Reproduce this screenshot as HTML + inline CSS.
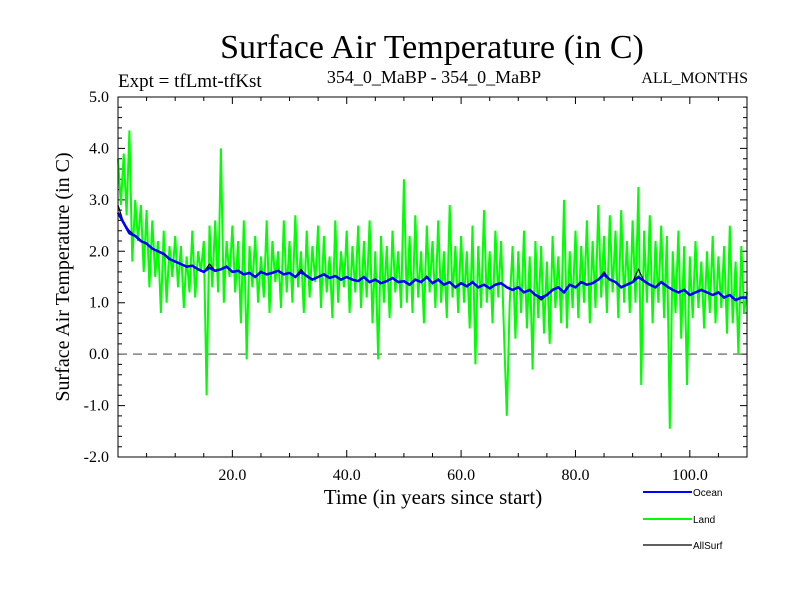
<!DOCTYPE html>
<html><head><meta charset="utf-8"><style>
body{margin:0;background:#fff}
svg text{font-family:"Liberation Serif",serif;fill:#000}
</style></head><body>
<svg width="800" height="600" xmlns="http://www.w3.org/2000/svg">
<text x="432" y="58" font-size="34" text-anchor="middle">Surface Air Temperature (in C)</text>
<text x="118" y="87" font-size="19">Expt = tfLmt-tfKst</text>
<text x="434" y="83" font-size="18" text-anchor="middle">354_0_MaBP - 354_0_MaBP</text>
<text x="748" y="83" font-size="16" text-anchor="end">ALL_MONTHS</text>
<g id="axes"></g>
<g id="series"></g>
<rect x="118" y="97" width="629" height="360" fill="none" stroke="#000" stroke-width="1"/>
<text x="433" y="504" font-size="21" text-anchor="middle">Time (in years since start)</text>
<text transform="translate(69,277) rotate(-90)" font-size="20" text-anchor="middle">Surface Air Temperature (in C)</text>
<g>
<line x1="643" y1="492" x2="692" y2="492" stroke="#0000ff" stroke-width="2"/>
<text x="693" y="496" font-size="10" style="font-family:'Liberation Sans',sans-serif">Ocean</text>
<line x1="643" y1="519" x2="692" y2="519" stroke="#00ff00" stroke-width="2"/>
<text x="693" y="523" font-size="10" style="font-family:'Liberation Sans',sans-serif">Land</text>
<line x1="643" y1="545" x2="692" y2="545" stroke="#000" stroke-width="1.2"/>
<text x="693" y="549" font-size="10" style="font-family:'Liberation Sans',sans-serif">AllSurf</text>
</g>
</svg>
<script>
const xTicks=[20,40,60,80,100];
const xTickLabels=["20.0","40.0","60.0","80.0","100.0"];
const yTicks=[-2,-1,0,1,2,3,4,5];
const yTickLabels=["-2.0","-1.0","0.0","1.0","2.0","3.0","4.0","5.0"];
const landStep=0.5;
const land=[3.8,2.9,3.9,2.7,4.35,1.8,3.0,2.2,2.9,1.6,2.8,1.3,2.6,1.5,2.2,0.8,2.4,1.0,2.1,1.5,
2.3,1.3,2.1,0.9,1.9,1.2,2.4,1.1,2.0,1.6,2.2,-0.8,2.5,1.3,2.6,1.2,4.0,1.0,2.2,1.5,
2.5,1.2,2.2,0.6,2.6,-0.1,2.1,1.3,2.3,1.0,1.9,1.1,2.6,0.8,2.2,1.4,2.0,0.9,2.6,1.2,
2.2,1.0,2.7,1.3,2.0,0.8,2.4,1.1,2.1,1.4,2.5,0.9,2.3,1.2,1.9,0.7,2.6,1.0,2.0,1.3,
2.4,0.8,2.1,1.2,2.5,0.9,2.2,1.1,2.6,0.6,2.0,-0.1,2.3,1.0,2.1,0.7,2.4,1.2,2.0,0.9,
3.4,1.0,2.3,0.8,2.7,1.1,2.0,0.6,2.5,1.2,2.2,0.9,2.6,1.0,2.0,0.7,2.9,1.1,2.1,0.8,
2.3,1.0,2.0,0.5,2.5,-0.2,2.1,0.9,2.8,1.0,2.0,0.6,2.4,1.1,2.2,0.4,-1.2,1.0,2.1,0.3,
2.0,0.8,2.4,0.5,1.9,-0.3,2.2,0.7,2.1,0.4,1.8,0.2,2.3,0.9,1.9,0.6,3.0,0.5,2.0,0.9,
2.4,0.7,2.1,1.0,2.6,0.6,2.2,0.9,2.9,1.1,2.3,0.8,2.7,1.2,2.4,0.7,2.8,1.0,2.2,0.8,
2.6,1.0,3.25,-0.6,2.4,1.0,2.7,0.6,2.2,1.0,2.5,0.7,2.3,-1.45,2.0,0.8,2.4,0.3,2.1,-0.6,
1.9,0.7,2.2,0.9,1.8,0.5,2.0,0.8,2.3,0.6,1.9,0.9,2.1,0.4,2.5,0.6,1.8,0.0,2.1,0.8,1.2];
const ocean=[2.75,2.55,2.35,2.3,2.2,2.15,2.05,2.0,1.95,1.85,
1.8,1.75,1.7,1.72,1.65,1.6,1.68,1.62,1.65,1.7,
1.6,1.62,1.55,1.58,1.5,1.6,1.55,1.58,1.62,1.55,
1.58,1.5,1.6,1.52,1.45,1.5,1.55,1.48,1.52,1.45,
1.5,1.45,1.42,1.5,1.4,1.45,1.38,1.42,1.48,1.4,
1.42,1.35,1.45,1.4,1.5,1.38,1.45,1.35,1.4,1.3,
1.38,1.32,1.4,1.3,1.35,1.28,1.35,1.38,1.3,1.25,
1.3,1.2,1.25,1.15,1.1,1.15,1.25,1.3,1.2,1.35,
1.3,1.4,1.35,1.38,1.45,1.55,1.45,1.4,1.3,1.35,
1.4,1.5,1.42,1.35,1.3,1.4,1.32,1.25,1.2,1.25,
1.15,1.2,1.25,1.2,1.15,1.2,1.1,1.15,1.05,1.1,1.1];
const allSurf=[2.9,2.55,2.4,2.3,2.2,2.15,2.05,2.0,1.95,1.85,
1.8,1.75,1.7,1.72,1.65,1.6,1.75,1.62,1.65,1.7,
1.6,1.62,1.55,1.58,1.5,1.6,1.55,1.58,1.62,1.55,
1.58,1.5,1.65,1.52,1.45,1.5,1.55,1.48,1.52,1.45,
1.5,1.45,1.42,1.5,1.4,1.45,1.38,1.42,1.48,1.4,
1.42,1.35,1.45,1.4,1.5,1.38,1.45,1.35,1.4,1.3,
1.38,1.32,1.4,1.3,1.35,1.28,1.35,1.38,1.3,1.25,
1.3,1.2,1.25,1.15,1.05,1.15,1.25,1.3,1.2,1.35,
1.3,1.4,1.35,1.38,1.45,1.6,1.45,1.4,1.3,1.35,
1.4,1.65,1.42,1.35,1.3,1.4,1.32,1.25,1.2,1.25,
1.15,1.2,1.25,1.2,1.15,1.2,1.1,1.15,1.05,1.1,1.1];
const X0=118,X1=747,Y0=457,Y1=97,xmin=0,xmax=110,ymin=-2,ymax=5;
const sx=v=>X0+(v-xmin)/(xmax-xmin)*(X1-X0);
const sy=v=>Y0-(v-ymin)/(ymax-ymin)*(Y0-Y1);
const NS="http://www.w3.org/2000/svg";
const axes=document.getElementById('axes'),ser=document.getElementById('series');
function mk(tag,attrs,parent){const e=document.createElementNS(NS,tag);for(const k in attrs)e.setAttribute(k,attrs[k]);parent.appendChild(e);return e;}
for(let v=5;v<xmax;v+=5){const major=v%20===0,L=major?7:4;
 const t=mk('path',{d:`M${sx(v)},${Y0}v${-L}M${sx(v)},${Y1}v${L}`,stroke:'#000','stroke-width':1},axes);
 
 }
for(let i=0;i<=35;i++){const v=ymin+i*0.2,major=i%5===0,L=major?7:4;
 const t=mk('path',{d:`M${X0},${sy(v)}h${L}M${X1},${sy(v)}h${-L}`,stroke:'#000','stroke-width':1},axes);
 
 }
xTicks.forEach((v,i)=>{const t=mk('text',{x:sx(v),y:480,'font-size':16,'text-anchor':'middle'},axes);t.textContent=xTickLabels[i];
 
 });
yTicks.forEach((v,i)=>{const t=mk('text',{x:109,y:sy(v)+5,'font-size':16,'text-anchor':'end'},axes);t.textContent=yTickLabels[i];
 
 });
const zl=mk('line',{x1:X0,x2:X1,y1:sy(0),y2:sy(0),stroke:'#808080','stroke-width':1.5,'stroke-dasharray':'9,6'},ser);


function pts(arr,step){return arr.map((v,i)=>sx(i*step).toFixed(1)+','+sy(v).toFixed(1)).join(' ');}
const lg=mk('polyline',{points:pts(land,landStep),fill:'none',stroke:'#00ff00','stroke-width':2},ser);


const al=mk('polyline',{points:pts(allSurf,1),fill:'none',stroke:'#000','stroke-width':1.2},ser);


const oc=mk('polyline',{points:pts(ocean,1),fill:'none',stroke:'#0000ff','stroke-width':2.6},ser);


</script>
</body></html>
